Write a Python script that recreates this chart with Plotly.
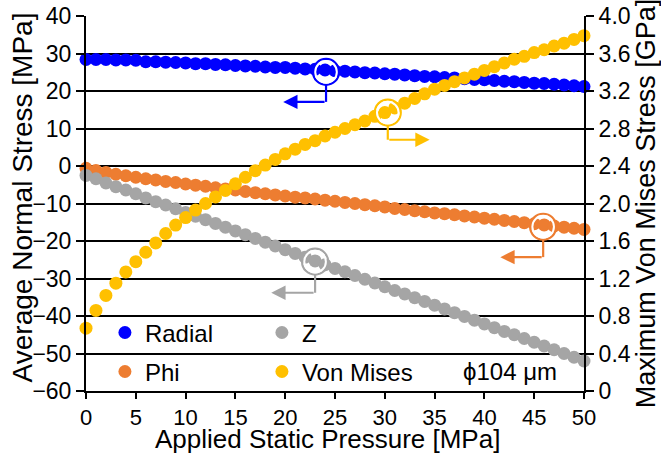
import plotly.graph_objects as go

# ---------------- data ----------------
pressure = list(range(0, 51))

radial = [28.4, 28.4, 28.4, 28.3, 28.3, 28.2, 27.8, 27.8, 27.7, 27.6,
          27.5, 27.3, 27.3, 27.1, 27.0, 26.8, 26.7, 26.6, 26.4, 26.3,
          26.3, 26.1, 25.9, 25.8, 25.6, 25.4, 25.3, 25.1, 24.9, 24.8,
          24.6, 24.5, 24.3, 24.1, 23.9, 23.8, 23.6, 23.5, 23.3, 23.1,
          23.0, 22.8, 22.6, 22.5, 22.3, 22.1, 22.0, 21.8, 21.6, 21.4, 21.2]

phi = [-0.6, -1.2, -1.7, -2.2, -2.6, -3.0, -3.4, -3.7, -4.1, -4.4,
       -4.8, -5.1, -5.4, -5.8, -6.1, -6.4, -6.8, -7.1, -7.4, -7.7,
       -8.0, -8.3, -8.5, -8.8, -9.1, -9.4, -9.7, -10.0, -10.3, -10.6,
       -10.9, -11.3, -11.6, -11.9, -12.2, -12.5, -12.7, -13.0, -13.3, -13.6,
       -13.9, -14.2, -14.5, -14.8, -15.1, -15.4, -15.7, -16.0, -16.3, -16.6, -16.9]

z_stress = [-2.5, -3.4, -4.5, -5.5, -6.4, -7.4, -8.5, -9.5, -10.4, -11.4,
            -12.4, -13.4, -14.3, -15.3, -16.3, -17.3, -18.3, -19.3, -20.3, -21.3,
            -22.3, -23.3, -24.3, -25.3, -26.3, -27.3, -28.2, -29.2, -30.2, -31.2,
            -32.2, -33.2, -34.1, -35.1, -36.1, -37.1, -38.1, -39.1, -40.1, -41.1,
            -42.1, -43.1, -44.1, -45.0, -46.0, -47.0, -48.0, -49.0, -50.0, -51.0, -52.0]

von_mises = [0.67, 0.86, 1.02, 1.15, 1.27, 1.38, 1.48, 1.58, 1.68, 1.77,
             1.85, 1.93, 2.00, 2.07, 2.14, 2.21, 2.28, 2.35, 2.41, 2.47,
             2.53, 2.58, 2.63, 2.67, 2.72, 2.76, 2.80, 2.84, 2.88, 2.93,
             2.97, 3.02, 3.07, 3.12, 3.17, 3.22, 3.26, 3.30, 3.34, 3.38,
             3.42, 3.46, 3.50, 3.54, 3.57, 3.61, 3.64, 3.68, 3.71, 3.75, 3.79]

x_ticks = [0, 5, 10, 15, 20, 25, 30, 35, 40, 45, 50]
y_left_ticks = [-60, -50, -40, -30, -20, -10, 0, 10, 20, 30, 40]
y_right_tickvals = [0, 0.4, 0.8, 1.2, 1.6, 2.0, 2.4, 2.8, 3.2, 3.6, 4.0]
y_right_ticktext = ["0", "0.4", "0.8", "1.2", "1.6", "2.0", "2.4", "2.8", "3.2", "3.6", "4.0"]

series_names = ["Radial", "Phi", "Z", "Von Mises"]
colors = {"Radial": "#0000FF", "Phi": "#ED7D31", "Z": "#A5A5A5", "Von Mises": "#FFC000"}

# callouts: circle centre (x, y), circle bottom y, elbow y, arrow end x, y-axis
callouts = [
    dict(name="Radial", cx=24.1, cy=25.1, ybot=21.6, elbow=17.1, xend=19.8, yref="y"),
    dict(name="Von Mises", cx=30.3, cy=2.97, ybot=2.83, elbow=2.68, xend=34.5, yref="y2"),
    dict(name="Z", cx=23.0, cy=-25.5, ybot=-29.0, elbow=-33.8, xend=18.6, yref="y"),
    dict(name="Phi", cx=45.9, cy=-16.2, ybot=-19.7, elbow=-24.3, xend=41.6, yref="y"),
]

FONT = "Arial, Liberation Sans, sans-serif"

fig = go.Figure()

trace_data = {"Radial": radial, "Phi": phi, "Z": z_stress, "Von Mises": von_mises}
legend_of = {"Radial": "legend", "Z": "legend", "Phi": "legend2", "Von Mises": "legend2"}
for name in series_names:
    fig.add_trace(go.Scatter(
        x=pressure, y=trace_data[name], mode="markers", name=name,
        marker=dict(color=colors[name], size=13, line=dict(width=0)),
        yaxis="y2" if name == "Von Mises" else "y",
        legend=legend_of[name], cliponaxis=False,
    ))

shapes = []
annotations = []
R = 13
for c in callouts:
    col = colors[c["name"]]
    shapes.append(dict(type="circle", xref="x", yref=c["yref"], xsizemode="pixel", ysizemode="pixel",
                       xanchor=c["cx"], yanchor=c["cy"], x0=-R, x1=R, y0=-R, y1=R,
                       line=dict(color=col, width=2.2), layer="above"))
    shapes.append(dict(type="circle", xref="x", yref=c["yref"], xsizemode="pixel", ysizemode="pixel",
                       xanchor=c["cx"], yanchor=c["cy"], x0=-R + 2.2, x1=R - 2.2, y0=-R + 2.2, y1=R - 2.2,
                       line=dict(color="white", width=2), layer="above"))
    shapes.append(dict(type="line", xref="x", yref=c["yref"], x0=c["cx"], x1=c["cx"],
                       y0=c["ybot"], y1=c["elbow"], line=dict(color=col, width=2.2), layer="above"))
    annotations.append(dict(x=c["xend"], y=c["elbow"], ax=c["cx"], ay=c["elbow"],
                            xref="x", yref=c["yref"], axref="x", ayref=c["yref"],
                            text="", showarrow=True, arrowhead=2, arrowsize=1.3,
                            arrowwidth=2.2, arrowcolor=col))

annotations.append(dict(x=0.851, y=0.051, xref="paper", yref="paper", text="\u03d5104 \u03bcm",
                        xanchor="center", yanchor="middle",
                        showarrow=False, font=dict(family=FONT, size=24, color="black")))

# axis titles placed as text
annotations.append(dict(x=-0.1275, y=0.515, xref="paper", yref="paper",
                        text="Average Normal Stress [MPa]", textangle=-90,
                        xanchor="center", yanchor="middle", showarrow=False,
                        font=dict(family=FONT, size=28, color="black")))
annotations.append(dict(x=0.485, y=-0.1733, xref="paper", yref="paper",
                        text="Applied Static Pressure [MPa]",
                        xanchor="center", yanchor="bottom", showarrow=False,
                        font=dict(family=FONT, size=26, color="black")))

fig.update_layout(
    width=661, height=457,
    margin=dict(l=86, r=77, t=16, b=66),
    paper_bgcolor="white", plot_bgcolor="white",
    font=dict(family=FONT, color="black"),
    showlegend=True,
    legend=dict(orientation="h", x=0.038, y=0.155, xanchor="left", yanchor="middle",
                bgcolor="rgba(0,0,0,0)", font=dict(family=FONT, size=24),
                entrywidth=112, entrywidthmode="pixels", itemclick=False),
    legend2=dict(orientation="h", x=0.038, y=0.051, xanchor="left", yanchor="middle",
                 bgcolor="rgba(0,0,0,0)", font=dict(family=FONT, size=24),
                 entrywidth=112, entrywidthmode="pixels", itemclick=False),
    xaxis=dict(range=[0, 50], tickvals=x_ticks, showgrid=False, zeroline=False,
               showline=True, linecolor="black", linewidth=2,
               ticks="outside", ticklen=6, tickwidth=2, tickcolor="black",
               tickfont=dict(size=22), automargin=False),
    yaxis=dict(range=[-60, 40], tickvals=y_left_ticks, showgrid=True, gridcolor="black", gridwidth=1.6,
               zeroline=False, showline=True, linecolor="black", linewidth=2,
               ticks="outside", ticklen=8, tickwidth=2, tickcolor="black",
               tickfont=dict(size=23), automargin=False),
    yaxis2=dict(range=[0, 4], overlaying="y", side="right", tickvals=y_right_tickvals,
                ticktext=y_right_ticktext, showgrid=False, zeroline=False,
                showline=True, linecolor="black", linewidth=2,
                ticks="outside", ticklen=8, tickwidth=2, tickcolor="black",
                tickfont=dict(size=23), automargin=False,
                title=dict(text="Maximum Von Mises Stress [GPa]", font=dict(size=27), standoff=2)),
    shapes=shapes,
    annotations=annotations,
)

fig.write_html("out.html", config={"displayModeBar": False},
               post_script="document.body.style.margin='0px';document.body.style.overflow='hidden';")
